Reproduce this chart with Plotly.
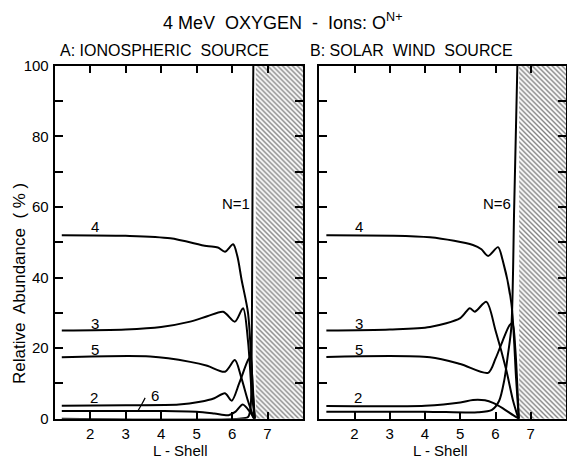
import plotly.graph_objects as go

# ---- data: relative abundance (%) of charge states N vs L-shell ----
# Panel A: ionospheric source (O+ injected at the boundary)
ion_L_n1 = [1.2, 6.2, 6.45, 6.52, 6.55, 6.57, 6.59, 6.6]
ion_n1 = [0, 0, 0.5, 3, 15, 50, 90, 100]
ion_L_n2 = [1.2, 3.0, 4.5, 5.1, 5.5, 5.8, 5.99, 6.2, 6.45, 6.52, 6.58, 6.64]
ion_n2 = [3.7, 3.8, 4.0, 4.8, 5.8, 7.2, 5.1, 10, 16.6, 17.5, 8, 0]
ion_L_n3 = [1.2, 3.0, 4.0, 4.82, 5.3, 5.75, 6.08, 6.31, 6.45, 6.55, 6.64]
ion_n3 = [25, 25.3, 26, 27.5, 29, 30.3, 27.5, 31.3, 22, 8, 0]
ion_L_n4 = [1.2, 3.0, 4.26, 5.28, 5.6, 5.8, 6.03, 6.15, 6.27, 6.45, 6.55, 6.64]
ion_n4 = [52, 51.8, 51.1, 48.9, 48.5, 47.3, 49.4, 46, 39.3, 30, 15, 0]
ion_L_n5 = [1.2, 3.69, 4.82, 5.3, 5.8, 6.08, 6.25, 6.45, 6.62]
ion_n5 = [17.4, 17.6, 16.1, 15, 13.3, 16.6, 12, 5, 0]
ion_L_n6 = [1.2, 4.0, 5.0, 5.5, 5.9, 6.1, 6.3, 6.5, 6.62]
ion_n6 = [2.2, 2.2, 2.0, 1.5, 1.0, 2, 4, 2, 0]

# Panel B: solar wind source (O6+ injected at the boundary)
sw_L_n2 = [1.2, 4.0, 5.0, 5.36, 5.7, 5.93, 6.2, 6.5, 6.66]
sw_n2 = [3.6, 3.7, 4.6, 5.3, 5.2, 4.5, 3, 1, 0]
sw_L_n3 = [1.2, 3.0, 4.14, 5.0, 5.27, 5.41, 5.74, 6.0, 6.3, 6.5, 6.65]
sw_n3 = [25, 25.3, 26, 28.5, 31.3, 30.3, 33.1, 25, 14, 5, 0]
sw_L_n4 = [1.2, 4.14, 5.36, 5.6, 5.79, 6.07, 6.2, 6.45, 6.58, 6.66]
sw_n4 = [52, 51.4, 49.2, 48, 46.1, 48.6, 45, 32.7, 12, 0]
sw_L_n5 = [1.2, 4.14, 5.0, 5.79, 6.0, 6.2, 6.4, 6.48, 6.56, 6.66]
sw_n5 = [17.5, 17.4, 15.5, 13.0, 17, 22, 26.5, 27, 20, 0]
sw_L_n6 = [1.2, 4.0, 5.5, 5.9, 6.1, 6.25, 6.35, 6.45, 6.53, 6.62]
sw_n6 = [2, 2, 1.8, 2.5, 5, 11, 18, 26, 60, 100]

# Forbidden region beyond the last closed drift shell
hatch_L = [6.67, 8.0]
hatch_top = 100

# Axis ticks
l_ticks = [2, 3, 4, 5, 6, 7]
abund_ticks = [0, 20, 40, 60, 80, 100]

# Curve labels: (N, L, value)
label_pos_ion = [("4", 2.13, 54.4), ("3", 2.13, 27.1), ("5", 2.13, 19.6), ("2", 2.12, 6.0), ("6", 3.83, 6.7)]
label_pos_sw = [("4", 2.13, 54.4), ("3", 2.13, 27.1), ("5", 2.13, 19.6), ("2", 2.1, 6.0)]

FONT = "Liberation Sans, Arial, sans-serif"
W, H = 567, 458

fig = go.Figure()

def add_curve(x, y, xa, ya):
    fig.add_trace(go.Scatter(
        x=x, y=y, mode="lines", xaxis=xa, yaxis=ya,
        line=dict(color="black", width=2, shape="spline", smoothing=0.8),
        showlegend=False, hoverinfo="skip"))

def add_hatch(xa, ya):
    x0, x1 = hatch_L
    fig.add_trace(go.Scatter(
        x=[x0, x1, x1, x0, x0], y=[0, 0, hatch_top, hatch_top, 0],
        mode="lines", fill="toself", xaxis=xa, yaxis=ya,
        line=dict(width=0, color="rgba(0,0,0,0)"),
        fillcolor="white",
        fillpattern=dict(shape="\\", fgcolor="black", bgcolor="white",
                         size=3.5, solidity=0.4),
        showlegend=False, hoverinfo="skip"))

add_hatch("x", "y")
add_hatch("x2", "y2")

for xs, ys in [(ion_L_n1, ion_n1), (ion_L_n2, ion_n2), (ion_L_n3, ion_n3),
               (ion_L_n4, ion_n4), (ion_L_n5, ion_n5), (ion_L_n6, ion_n6)]:
    add_curve(xs, ys, "x", "y")

for xs, ys in [(sw_L_n2, sw_n2), (sw_L_n3, sw_n3), (sw_L_n4, sw_n4),
               (sw_L_n5, sw_n5), (sw_L_n6, sw_n6)]:
    add_curve(xs, ys, "x2", "y2")

# leader line from the "6" label to its curve
fig.add_trace(go.Scatter(
    x=[3.55, 3.45, 3.35], y=[5.9, 4.0, 2.3], mode="lines", xaxis="x", yaxis="y",
    line=dict(color="black", width=1.2, shape="spline"),
    showlegend=False, hoverinfo="skip"))

ax_common = dict(
    range=[1, 8], showgrid=False, zeroline=False, showline=True,
    linecolor="black", linewidth=2, mirror="ticks", automargin=False,
    ticks="inside", ticklen=7, tickwidth=1.5, tickcolor="black",
    tickvals=l_ticks,
    tickfont=dict(family=FONT, size=15, color="black"),
)
ay_common = dict(
    range=[0, 100], showgrid=False, zeroline=False, showline=True,
    linecolor="black", linewidth=2, mirror="ticks", automargin=False,
    ticks="inside", ticklen=8, tickwidth=1.5, tickcolor="black",
    tickvals=abund_ticks,
    minor=dict(dtick=10, ticks="inside", ticklen=8, tickwidth=1.5,
               tickcolor="black", showgrid=False),
    tickfont=dict(family=FONT, size=15, color="black"),
)

y_dom = [1 - 418.7 / H, 1 - 65.7 / H]

fig.update_layout(
    width=W, height=H, margin=dict(l=0, r=0, t=0, b=0, autoexpand=False),
    paper_bgcolor="white", plot_bgcolor="white",
    xaxis=dict(ax_common, domain=[54.7 / W, 303 / W], anchor="y"),
    yaxis=dict(ay_common, domain=y_dom, anchor="x", ticklabelstandoff=1),
    xaxis2=dict(ax_common, domain=[319.3 / W, 566 / W], anchor="y2"),
    yaxis2=dict(ay_common, domain=y_dom, anchor="x2", showticklabels=False),
)

ann = []
def txt(text, x, y, size, xref="paper", yref="paper", xanchor="center", **kw):
    ann.append(dict(text=text, x=x, y=y, xref=xref, yref=yref, showarrow=False,
                    xanchor=xanchor, yanchor="middle",
                    font=dict(family=FONT, size=size, color="black"), **kw))

txt("4 MeV  OXYGEN  -  Ions: O<sup>N+</sup>", 283 / W, 1 - 21 / H, 18)
txt("A: IONOSPHERIC  SOURCE", 58 / W, 1 - 51 / H, 16, xanchor="left")
txt("B: SOLAR  WIND  SOURCE", 308 / W, 1 - 51 / H, 16, xanchor="left")
txt("Relative  Abundance  ( % )", 19 / W, 1 - 284 / H, 17, textangle=-90)
txt("L - Shell", 180 / W, 1 - 450 / H, 15)
txt("L - Shell", 440 / W, 1 - 450 / H, 15)

for t, lx, ly in label_pos_ion:
    txt(t, lx, ly, 15, xref="x", yref="y")
for t, lx, ly in label_pos_sw:
    txt(t, lx, ly, 15, xref="x2", yref="y2")
txt("N=1", 6.1, 61, 15, xref="x", yref="y")
txt("N=6", 6.03, 61, 15, xref="x2", yref="y2")

fig.update_layout(annotations=ann)
fig.write_html("out.html")
